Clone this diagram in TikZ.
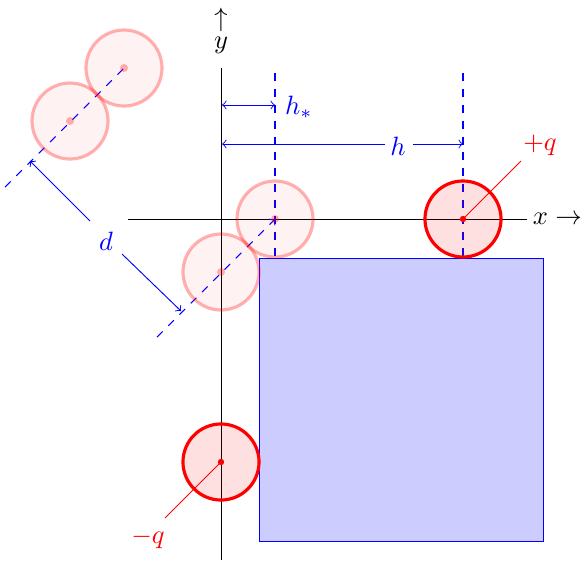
\documentclass[tikz,border=0pt]{standalone}
\begin{document}
\begin{tikzpicture}[x=0.3774pt,y=-0.3774pt,
  charge/.style={circle,draw=red,fill=red,fill opacity=0.12,draw opacity=1,text opacity=1,line width=1.2pt,minimum size=28.7pt,inner sep=0pt},
  ghost/.style={circle,draw=red,draw opacity=0.3,fill=red,fill opacity=0.05,line width=1.2pt,minimum size=28.7pt,inner sep=0pt},
  cdot/.style={circle,fill=red,inner sep=0pt,minimum size=2.4pt},
  gdot/.style={circle,fill=red,fill opacity=0.3,inner sep=0pt,minimum size=3pt},
  plate/.style={rectangle,draw=blue,fill=blue!20,line width=0.35pt,inner sep=0pt,minimum width=107.2pt,minimum height=106.8pt,anchor=north west},
  axis/.style={line width=0.35pt},
  dimline/.style={blue,line width=0.35pt},
  guide/.style={draw=blue,line width=0.4pt,dashed},
  lbl/.style={inner sep=1pt}]
\useasboundingbox (0,0) rectangle (583,566);
% plate
\node[plate] (plate) at (259,258) {};
% axes
\coordinate (xs) at (128,219);
\coordinate (xe) at (527,219);
\coordinate (ys) at (221,560);
\coordinate (ye) at (221,68);
\draw[axis] (xs) -- (xe);
\draw[axis] (ys) -- (ye);
\node[anchor=west,inner sep=2pt] (xl) at (xe) {$x\rightarrow$};
\node[lbl] (yl) at (221,45) {$y$};
\node[lbl] (ya) at (221,20) {$\uparrow$};
% centers
\coordinate (P) at (463,219);
\coordinate (N) at (221,462);
\coordinate (G1) at (275,219);
\coordinate (G2) at (221,272);
\coordinate (G3) at (70,121);
\coordinate (G4) at (124,68);
% guides
\coordinate (v1t) at (275,73);
\coordinate (v1b) at (275,258);
\coordinate (v2t) at (463,73);
\coordinate (v2b) at (463,258);
\draw[guide] (v1t) -- (v1b);
\draw[guide] (v2t) -- (v2b);
\coordinate (dA) at (157,337);
\coordinate (dB) at (5,187);
\draw[guide,->] (dA) -- (G1);
\draw[guide] (dB) -- (G4);
% ghost charges
\node[ghost] (g1) at (G1) {};
\node[ghost] (g2) at (G2) {};
\node[ghost] (g3) at (G3) {};
\node[ghost] (g4) at (G4) {};
\foreach \g in {G1,G2,G3,G4} \node[gdot] at (\g) {};
% real charges
\node[charge] (p) at (P) {};
\node[charge] (n) at (N) {};
\node[cdot] (pd) at (P) {};
\node[cdot] (nd) at (N) {};
\coordinate (pl) at (521,161);
\coordinate (nl) at (165,518);
\draw[red,line width=0.35pt] (pd.center) -- (pl);
\draw[red,line width=0.35pt] (nd.center) -- (nl);
\node[red,lbl] (plab) at (540,145) {$+q$};
\node[red,lbl] (nlab) at (148,538) {$-q$};
% h_* dimension
\coordinate (hs1) at (222,105);
\coordinate (hs2) at (275,105);
\draw[dimline,<->] (hs1) -- (hs2);
\node[blue,anchor=west,lbl] (hsl) at (282,107) {$h_*$};
% h dimension
\coordinate (h1) at (222,144);
\coordinate (h2) at (463,144);
\node[blue,lbl] (hl) at (398,146) {$h$};
\coordinate (hg1) at (385,144);
\coordinate (hg2) at (413,144);
\draw[dimline,->] (hg1) -- (h1);
\draw[dimline,->] (hg2) -- (h2);
% d dimension
\coordinate (d1) at (30,161);
\coordinate (d2) at (181,311);
\node[blue,lbl] (dl) at (106,241) {$d$};
\coordinate (dg1) at (90,221);
\coordinate (dg2) at (122,254);
\draw[dimline,->] (dg1) -- (d1);
\draw[dimline,->] (dg2) -- (d2);
\end{tikzpicture}
\end{document}
